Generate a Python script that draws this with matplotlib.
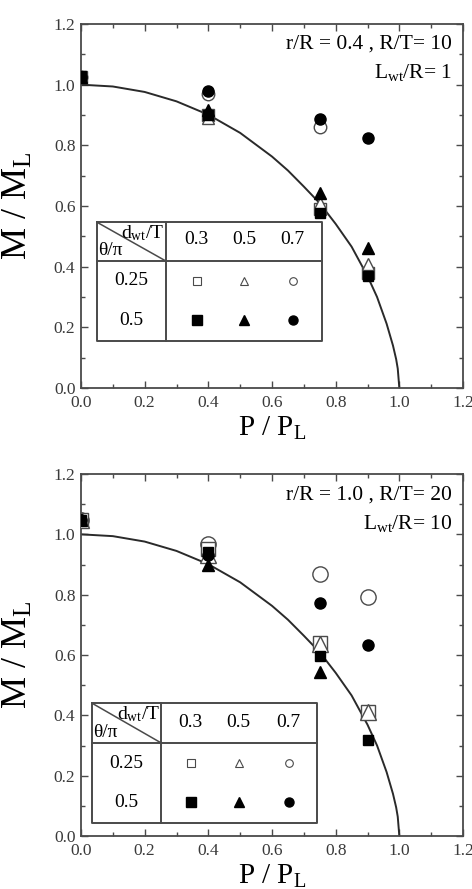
import matplotlib
matplotlib.use('Agg')
import matplotlib.pyplot as plt

plt.rcParams['font.family'] = ['Liberation Serif', 'DejaVu Serif']
plt.rcParams['mathtext.fontset'] = 'custom'
plt.rcParams['mathtext.rm'] = 'Liberation Serif'
plt.rcParams['mathtext.it'] = 'Liberation Serif:italic'

NAN = float('nan')

# --- limit load interaction curve ---
curve_p = [0.0, 0.1, 0.2, 0.3, 0.4, 0.5, 0.6, 0.65, 0.7, 0.75, 0.8, 0.85,
           0.9, 0.93, 0.96, 0.98, 0.99, 0.995, 1.0]
curve_m = [1.0, 0.994, 0.976, 0.945, 0.901, 0.841, 0.763, 0.717, 0.664, 0.609,
           0.541, 0.466, 0.369, 0.300, 0.212, 0.140, 0.095, 0.064, 0.0]

p_vals = [0.0, 0.4, 0.75, 0.9]
d_labels = ['0.3', '0.5', '0.7']
theta_labels = ['0.25', '0.5']

# top panel: r/R = 0.4, R/T = 10, Lwt/R = 1
top_open_sq = [1.025, 0.90, 0.59, 0.38]
top_open_tri = [1.025, 0.89, 0.61, 0.41]
top_open_cir = [1.025, 0.968, 0.862, NAN]
top_fill_sq = [1.027, 0.90, 0.577, 0.369]
top_fill_tri = [1.025, 0.917, 0.642, 0.46]
top_fill_cir = [1.025, 0.98, 0.886, 0.825]

# bottom panel: r/R = 1.0, R/T = 20, Lwt/R = 10
bot_open_sq = [1.047, 0.95, 0.64, 0.41]
bot_open_tri = [1.047, 0.93, 0.635, 0.41]
bot_open_cir = [1.047, 0.967, 0.867, 0.793]
bot_fill_sq = [1.047, 0.94, 0.597, 0.318]
bot_fill_tri = [1.047, 0.898, 0.545, NAN]
bot_fill_cir = [1.047, 0.93, 0.773, 0.633]

W, H = 472, 889
fig = plt.figure(figsize=(W / 100, H / 100), dpi=100)

GRAY = '#4a4a4a'


def px_axes(left, top, right, bottom):
    return fig.add_axes([left / W, 1 - bottom / H, (right - left) / W, (bottom - top) / H])


def style_axes(ax):
    ax.set_xlim(0, 1.2)
    ax.set_ylim(0, 1.2)
    ax.set_xticks([0, 0.2, 0.4, 0.6, 0.8, 1.0, 1.2])
    ax.set_yticks([0, 0.2, 0.4, 0.6, 0.8, 1.0, 1.2])
    ax.set_xticks([0.1, 0.3, 0.5, 0.7, 0.9, 1.1], minor=True)
    ax.set_yticks([0.1, 0.3, 0.5, 0.7, 0.9, 1.1], minor=True)
    ax.set_xticklabels(['0.0', '0.2', '0.4', '0.6', '0.8', '1.0', '1.2'])
    ax.set_yticklabels(['0.0', '0.2', '0.4', '0.6', '0.8', '1.0', '1.2'])
    ax.tick_params(which='both', direction='in', top=True, right=True,
                   colors=GRAY, labelcolor='#3a3a3a', labelsize=12.5, width=1)
    ax.tick_params(which='major', length=5)
    ax.tick_params(axis='x', which='major', pad=5)
    ax.tick_params(axis='y', which='major', pad=4)
    ax.tick_params(which='minor', length=3)
    for s in ax.spines.values():
        s.set_color(GRAY)
        s.set_linewidth(1.3)
    ax.set_xlabel(r'P / P$_{\rm L}$', fontsize=21)
    ax.set_ylabel(r'M / M$_{\rm L}$', fontsize=26)
    ax.xaxis.set_label_coords(0.5, -0.075)
    ax.yaxis.set_label_coords(-0.12, 0.5)


def draw_series(ax, data, sizes):
    os_, ot, oc, fs, ft, fc = data
    so, sf = sizes
    ax.plot(p_vals, oc, 'o', ms=so[2], mfc='white', mec=GRAY, mew=1, zorder=3)
    ax.plot(p_vals, os_, 's', ms=so[0], mfc='white', mec=GRAY, mew=1, zorder=3)
    ax.plot(p_vals, ot, '^', ms=so[1], mfc='white', mec=GRAY, mew=1, zorder=3)
    ax.plot(p_vals, fc, 'o', ms=sf[2], color='black', zorder=4)
    ax.plot(p_vals, fs, 's', ms=sf[0], color='black', zorder=4)
    ax.plot(p_vals, ft, '^', ms=sf[1], color='black', zorder=4)


def draw_table(ax, x0, x1, x2, y0, y1, y2, xcols, yhead, yrows, xrow):
    kw = dict(color=GRAY, lw=1.4, zorder=5, clip_on=False)
    ax.fill([x0, x2, x2, x0], [y0, y0, y2, y2], color='white', zorder=4.5)
    ax.plot([x0, x2, x2, x0, x0], [y0, y0, y2, y2, y0], **kw)
    ax.plot([x0, x2], [y1, y1], **kw)
    ax.plot([x1, x1], [y0, y2], **kw)
    ax.plot([x0, x1], [y0, y1], color=GRAY, lw=1.1, zorder=5)
    for x, lab in zip(xcols, d_labels):
        ax.text(x, yhead, lab, ha='center', va='center', fontsize=14, zorder=6)
    for y, lab in zip(yrows, theta_labels):
        ax.text(xrow, y, lab, ha='center', va='center', fontsize=14, zorder=6)
    ax.text(x0 + 0.004, y1 + 0.006, 'θ/π', ha='left', va='bottom', fontsize=14, zorder=6)
    ax.text(x1 - 0.004, y0 - 0.002, r'd$_{\rm wt}$/T', ha='right', va='top', fontsize=14, zorder=6)
    mk = ['s', '^', 'o']
    for x, m in zip(xcols, mk):
        ax.plot([x], [yrows[0]], m, ms=5.5, mfc='white', mec=GRAY, mew=0.8, zorder=6)
        ax.plot([x], [yrows[1]], m, ms=6.5, color='black', zorder=6)


# ---------------- top panel ----------------
ax1 = px_axes(81, 24, 463, 388)
style_axes(ax1)
ax1.plot(curve_p, curve_m, color='#2a2a2a', lw=1.4, zorder=2)
draw_series(ax1, [top_open_sq, top_open_tri, top_open_cir,
                  top_fill_sq, top_fill_tri, top_fill_cir],
            ([8, 9, 9], [7, 8, 8]))
draw_table(ax1, 0.051, 0.266, 0.756, 0.546, 0.419, 0.156,
           [0.363, 0.513, 0.665], 0.488, [0.353, 0.224], 0.157)
ax1.text(1.166, 1.135, 'r/R = 0.4 , R/T= 10', ha='right', va='center', fontsize=15.5)
ax1.text(1.166, 1.04, r'L$_{\rm wt}$/R= 1', ha='right', va='center', fontsize=15.5)

# ---------------- bottom panel ----------------
ax2 = px_axes(81, 474, 463, 836)
style_axes(ax2)
ax2.plot(curve_p, curve_m, color='#2a2a2a', lw=1.4, zorder=2)
draw_series(ax2, [bot_open_sq, bot_open_tri, bot_open_cir,
                  bot_fill_sq, bot_fill_tri, bot_fill_cir],
            ([10, 11, 11], [7, 8, 8]))
draw_table(ax2, 0.035, 0.251, 0.74, 0.44, 0.309, 0.042,
           [0.345, 0.495, 0.652], 0.376, [0.241, 0.112], 0.141)
ax2.text(1.166, 1.13, 'r/R = 1.0 , R/T= 20', ha='right', va='center', fontsize=15.5)
ax2.text(1.166, 1.035, r'L$_{\rm wt}$/R= 10', ha='right', va='center', fontsize=15.5)

fig.savefig('out.png', dpi=100)
